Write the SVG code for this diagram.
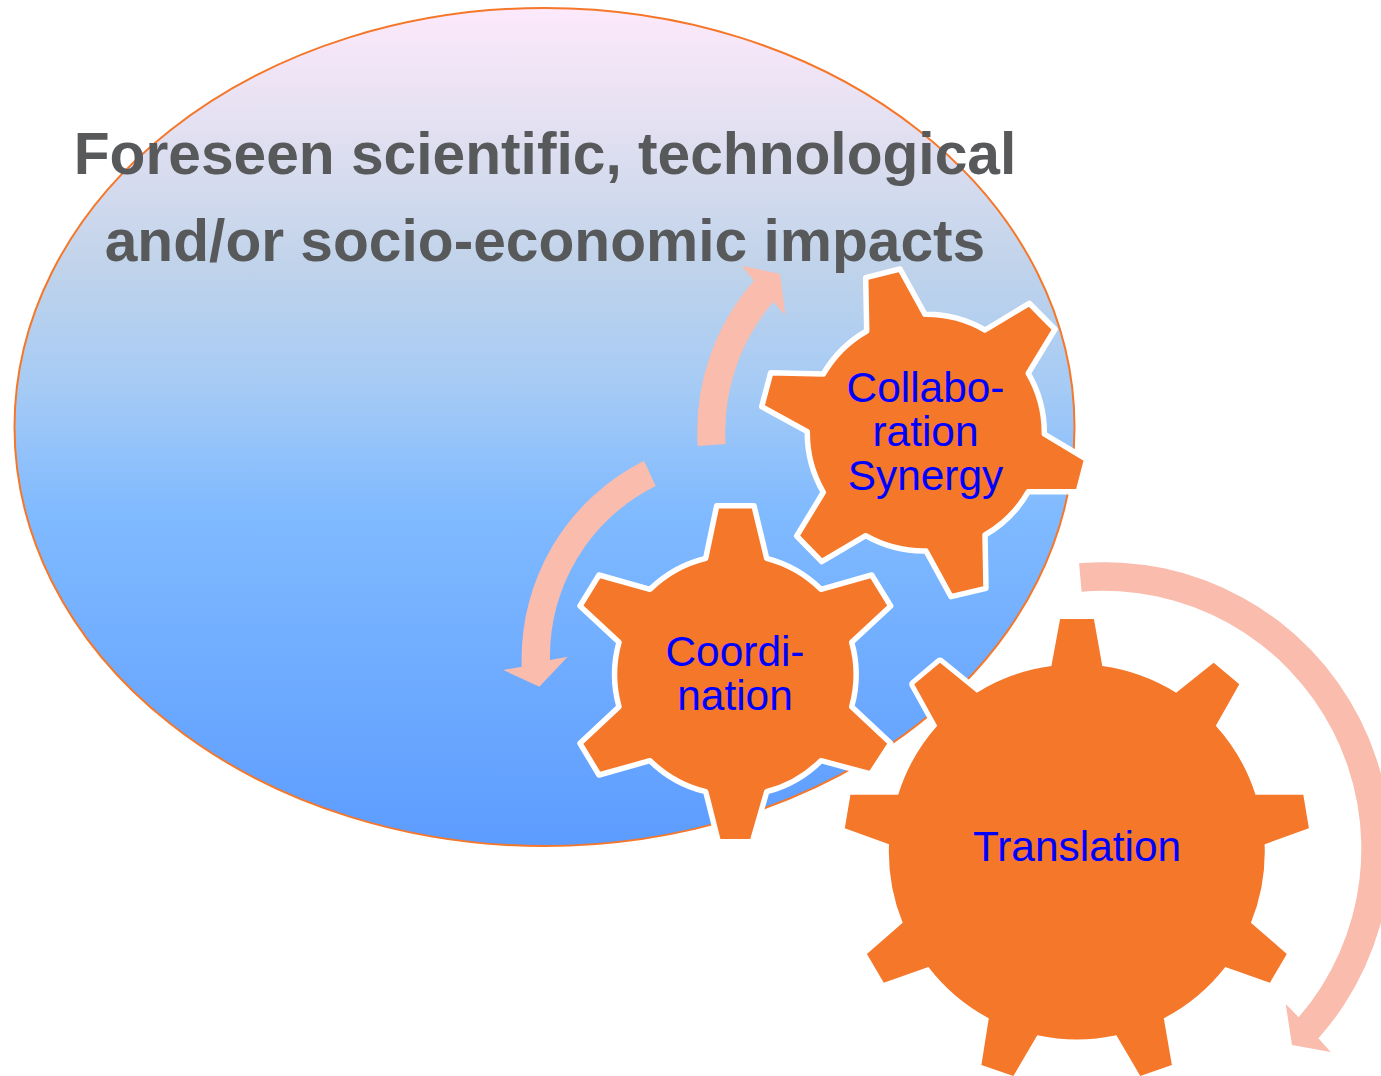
<svg xmlns="http://www.w3.org/2000/svg" width="1381" height="1076" viewBox="0 0 1381 1076">
<style>
.gear{fill:#f5772a;stroke:#fff;stroke-width:5.5;stroke-linejoin:round}
.halo{stroke-width:10;paint-order:stroke}
.arrow{fill:#f9bcad;stroke:none}
.lbl{font-family:"Liberation Sans",Arial,sans-serif;font-size:42.4px;fill:#0000ff;text-anchor:middle}
.title{font-family:"Liberation Sans",Arial,sans-serif;font-size:58.7px;font-weight:bold;fill:#58595b;text-anchor:middle}
</style>
<defs>
<linearGradient id="sky" x1="0" y1="0" x2="0" y2="1">
<stop offset="0" stop-color="#fde9fb"/>
<stop offset="0.146" stop-color="#e2e0f1"/>
<stop offset="0.307" stop-color="#c0d3ea"/>
<stop offset="0.45" stop-color="#a6cbf5"/>
<stop offset="0.6" stop-color="#80baff"/>
<stop offset="1" stop-color="#5c9cff"/>
</linearGradient>
</defs>
<rect width="1381" height="1076" fill="#fff"/>
<g id="impacts">
<ellipse cx="544.5" cy="427" rx="530" ry="419" fill="url(#sky)" stroke="#f5772a" stroke-width="2"/>
<text class="title" x="545" y="174">Foreseen scientific, technological</text>
<text class="title" x="545" y="261">and/or socio-economic impacts</text>
</g>
<g id="connectors">
<path class="arrow" d="M697.7,446A228,228 0 0 1 754,280.7L741.7,265.7L780,274L785.3,315L773.3,301.7A200,200 0 0 0 725.7,444Z"/>
<path class="arrow" d="M644,460.7A222,222 0 0 0 521.7,666.7L503.3,670L539.3,686.7L567.7,656.7L550,660A190,190 0 0 1 655.7,486Z"/>
<path class="arrow" d="M1079.1,563.3A286,286 0 0 1 1318.4,1038.3L1330.7,1052L1292,1045L1285.7,1004L1298.7,1017.3A258,258 0 0 0 1081.6,591.7Z"/>
</g>
<g id="collaboration">
<path class="gear" d="M865.7,277.7L900,269L925,314.3A118,118 0 0 1 985,330L1029.3,303.3L1055,329.3L1028.3,373.3A118,118 0 0 1 1044.3,434L1086.7,459.3L1078.3,491.7L1028.3,491.7A118,118 0 0 1 985,535L986,588.3L951,596.7L926,551A118,118 0 0 1 865.7,535.7L821.7,561.7L796.7,536L823.3,492.3A118,118 0 0 1 807.3,431.7L761.7,406.7L770.7,372.7L823.3,374A118,118 0 0 1 866.7,331Z"/>
<text class="lbl" x="925.5" y="402">Collabo-</text>
<text class="lbl" x="925.5" y="446">ration</text>
<text class="lbl" x="925.5" y="490">Synergy</text>
</g>
<g id="coordination">
<path class="gear" d="M716.7,505.7L754,505.7L766.7,558.3A120,120 0 0 1 821,589.3L871.7,575L890.7,606L851.7,642.3A120,120 0 0 1 851.7,706.7L890.7,743.3L870.7,774L821,760.7A120,120 0 0 1 766.7,791.7L752.3,841.7L718.3,841.7L705.7,791.7A120,120 0 0 1 650,760.7L599,775L580,743.3L619,706.7A120,120 0 0 1 619,642.3L580,606L599,575L650,589.3A120,120 0 0 1 705.7,558.3Z"/>
<text class="lbl" x="735" y="666">Coordi-</text>
<text class="lbl" x="735" y="710">nation</text>
</g>
<g id="translation">
<path class="gear halo" d="M1060.1,619L1093.9,619L1102.3,666A188,188 0 0 1 1176.1,692.7L1213.7,662.7L1239.3,684.3L1215.8,725.7A188,188 0 0 1 1255.5,794.7L1303.3,794.7L1308.9,828.3L1264.6,844.3A188,188 0 0 1 1250.9,922.7L1286.8,954L1269.9,982.7L1225.3,967A188,188 0 0 1 1163.8,1018.3L1171.9,1065L1140.3,1076L1116.4,1035.3A188,188 0 0 1 1037.3,1035.3L1013.4,1076L981.4,1065L988.8,1018.3A188,188 0 0 1 928.4,967L883.8,982.7L866.9,954L902.7,922.7A188,188 0 0 1 889,844.3L844.8,828.3L850.4,794.7L898.2,794.7A188,188 0 0 1 937.2,725.7L914.3,684.3L940,662.7L976.9,692.7A188,188 0 0 1 1051.4,666Z"/>
<text class="lbl" x="1077" y="861">Translation</text>
</g>
</svg>
